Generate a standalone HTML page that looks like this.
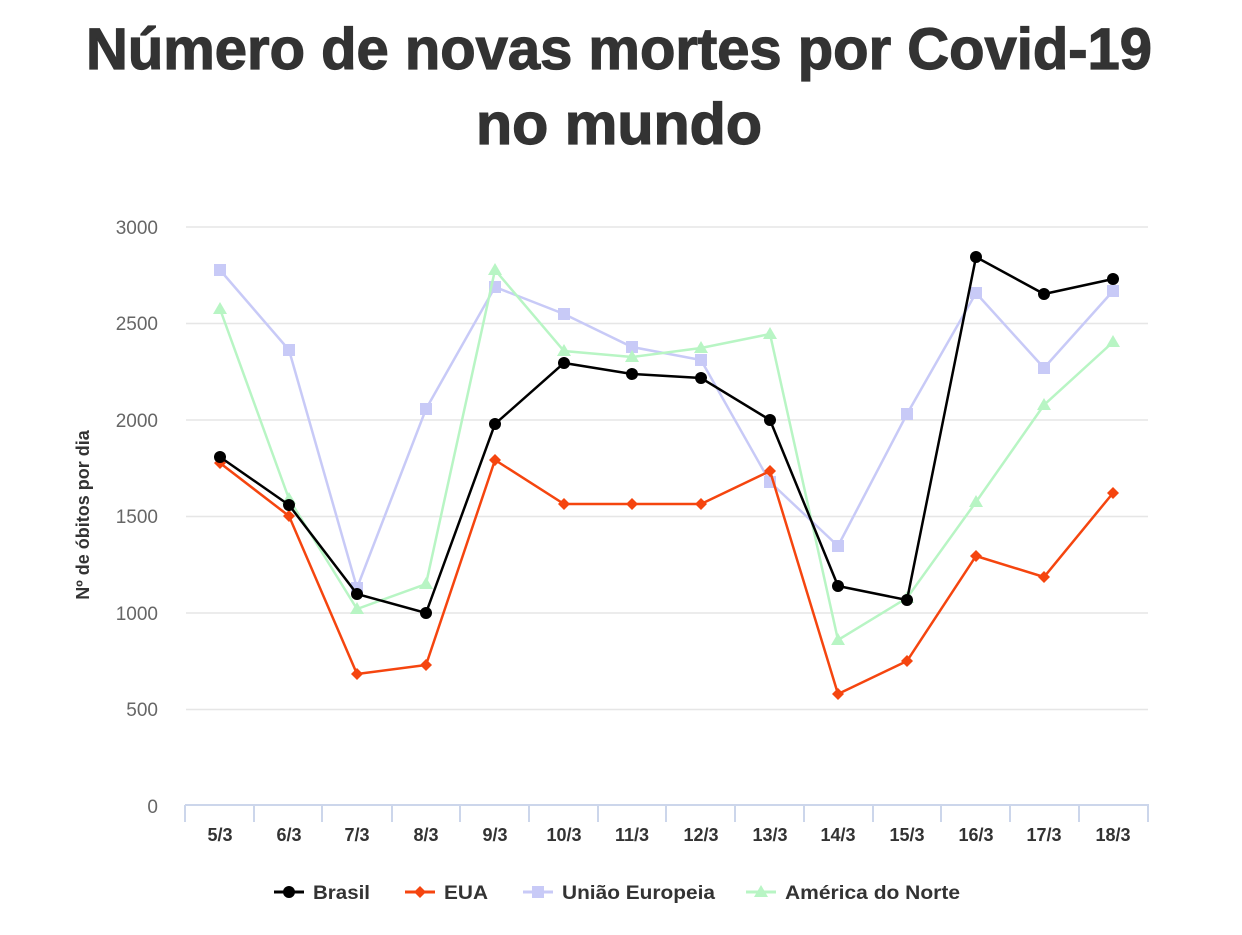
<!DOCTYPE html>
<html><head><meta charset="utf-8"><style>
html,body{margin:0;padding:0;background:#fff;width:1242px;height:935px;overflow:hidden}
svg text{font-family:"Liberation Sans",sans-serif}
</style></head><body>
<svg width="1242" height="935" xmlns="http://www.w3.org/2000/svg">
<g font-weight="bold" fill="#333" font-size="58" stroke="#333" stroke-width="1.2">
<text x="86" y="69" textLength="1066" lengthAdjust="spacingAndGlyphs">Número de novas mortes por Covid-19</text>
<text x="476" y="144" textLength="286" lengthAdjust="spacingAndGlyphs">no mundo</text>
</g>
<g stroke="#e6e6e6" stroke-width="1.5">
<line x1="186" x2="1148" y1="227" y2="227"/><line x1="186" x2="1148" y1="323.5" y2="323.5"/>
<line x1="186" x2="1148" y1="420" y2="420"/><line x1="186" x2="1148" y1="516.5" y2="516.5"/>
<line x1="186" x2="1148" y1="613" y2="613"/><line x1="186" x2="1148" y1="709.5" y2="709.5"/>
</g>
<g stroke="#ccd6eb" stroke-width="2">
<line x1="185" x2="1149" y1="805" y2="805"/>
<line x1="185" x2="185" y1="805" y2="822"/><line x1="254" x2="254" y1="805" y2="822"/><line x1="322" x2="322" y1="805" y2="822"/><line x1="392" x2="392" y1="805" y2="822"/><line x1="460" x2="460" y1="805" y2="822"/><line x1="529" x2="529" y1="805" y2="822"/><line x1="598" x2="598" y1="805" y2="822"/><line x1="666" x2="666" y1="805" y2="822"/><line x1="735" x2="735" y1="805" y2="822"/><line x1="804" x2="804" y1="805" y2="822"/><line x1="873" x2="873" y1="805" y2="822"/><line x1="941" x2="941" y1="805" y2="822"/><line x1="1010" x2="1010" y1="805" y2="822"/><line x1="1079" x2="1079" y1="805" y2="822"/><line x1="1148" x2="1148" y1="805" y2="822"/>
</g>
<g fill="#666" font-size="19" text-anchor="end">
<text x="158" y="234">3000</text><text x="158" y="330">2500</text><text x="158" y="427">2000</text><text x="158" y="523">1500</text><text x="158" y="620">1000</text><text x="158" y="716">500</text><text x="158" y="813">0</text>
</g>
<text transform="translate(89,515) rotate(-90)" text-anchor="middle" font-size="18" font-weight="bold" fill="#333">Nº de óbitos por dia</text>
<g fill="#333" font-size="18" font-weight="bold" text-anchor="middle">
<text x="220" y="841">5/3</text><text x="289" y="841">6/3</text><text x="357" y="841">7/3</text><text x="426" y="841">8/3</text><text x="495" y="841">9/3</text><text x="564" y="841">10/3</text><text x="632" y="841">11/3</text><text x="701" y="841">12/3</text><text x="770" y="841">13/3</text><text x="838" y="841">14/3</text><text x="907" y="841">15/3</text><text x="976" y="841">16/3</text><text x="1044" y="841">17/3</text><text x="1113" y="841">18/3</text>
</g>
<polyline fill="none" stroke="#c8caf7" stroke-width="2.5" points="220,270 289,350 357,588 426,409 495,287 564,314 632,347 701,360 770,482 838,546 907,414 976,293 1044,368 1113,291"/>
<g fill="#c8caf7">
<rect x="214" y="264" width="12" height="12"/><rect x="283" y="344" width="12" height="12"/><rect x="351" y="582" width="12" height="12"/><rect x="420" y="403" width="12" height="12"/><rect x="489" y="281" width="12" height="12"/><rect x="558" y="308" width="12" height="12"/><rect x="626" y="341" width="12" height="12"/><rect x="695" y="354" width="12" height="12"/><rect x="764" y="476" width="12" height="12"/><rect x="832" y="540" width="12" height="12"/><rect x="901" y="408" width="12" height="12"/><rect x="970" y="287" width="12" height="12"/><rect x="1038" y="362" width="12" height="12"/><rect x="1107" y="285" width="12" height="12"/>
</g>
<polyline fill="none" stroke="#b8f5c4" stroke-width="2.5" points="220,309 289,499 357,609 426,584 495,270 564,351 632,357 701,348 770,334 838,640 907,598 976,502 1044,405 1113,342"/>
<g fill="#b8f5c4">
<path d="M220,302l7,12h-14z"/><path d="M289,492l7,12h-14z"/><path d="M357,602l7,12h-14z"/><path d="M426,577l7,12h-14z"/><path d="M495,263l7,12h-14z"/><path d="M564,344l7,12h-14z"/><path d="M632,350l7,12h-14z"/><path d="M701,341l7,12h-14z"/><path d="M770,327l7,12h-14z"/><path d="M838,633l7,12h-14z"/><path d="M907,591l7,12h-14z"/><path d="M976,495l7,12h-14z"/><path d="M1044,398l7,12h-14z"/><path d="M1113,335l7,12h-14z"/>
</g>
<polyline fill="none" stroke="#f5450f" stroke-width="2.5" points="220,463 289,516 357,674 426,665 495,460 564,504 632,504 701,504 770,471 838,694 907,661 976,556 1044,577 1113,493"/>
<g fill="#f5450f">
<path d="M220,457l6,6l-6,6l-6,-6z"/><path d="M289,510l6,6l-6,6l-6,-6z"/><path d="M357,668l6,6l-6,6l-6,-6z"/><path d="M426,659l6,6l-6,6l-6,-6z"/><path d="M495,454l6,6l-6,6l-6,-6z"/><path d="M564,498l6,6l-6,6l-6,-6z"/><path d="M632,498l6,6l-6,6l-6,-6z"/><path d="M701,498l6,6l-6,6l-6,-6z"/><path d="M770,465l6,6l-6,6l-6,-6z"/><path d="M838,688l6,6l-6,6l-6,-6z"/><path d="M907,655l6,6l-6,6l-6,-6z"/><path d="M976,550l6,6l-6,6l-6,-6z"/><path d="M1044,571l6,6l-6,6l-6,-6z"/><path d="M1113,487l6,6l-6,6l-6,-6z"/>
</g>
<polyline fill="none" stroke="#000" stroke-width="2.5" points="220,457 289,505 357,594 426,613 495,424 564,363 632,374 701,378 770,420 838,586 907,600 976,257 1044,294 1113,279"/>
<g fill="#000">
<circle cx="220" cy="457" r="6"/><circle cx="289" cy="505" r="6"/><circle cx="357" cy="594" r="6"/><circle cx="426" cy="613" r="6"/><circle cx="495" cy="424" r="6"/><circle cx="564" cy="363" r="6"/><circle cx="632" cy="374" r="6"/><circle cx="701" cy="378" r="6"/><circle cx="770" cy="420" r="6"/><circle cx="838" cy="586" r="6"/><circle cx="907" cy="600" r="6"/><circle cx="976" cy="257" r="6"/><circle cx="1044" cy="294" r="6"/><circle cx="1113" cy="279" r="6"/>
</g>
<g font-size="19" font-weight="bold" fill="#333">
<line x1="274" x2="304" y1="892" y2="892" stroke="#000" stroke-width="3"/><circle cx="289" cy="892" r="6" fill="#000"/>
<text x="313" y="899" textLength="57" lengthAdjust="spacingAndGlyphs">Brasil</text>
<line x1="405" x2="435" y1="892" y2="892" stroke="#f5450f" stroke-width="3"/><path d="M420,886l6,6l-6,6l-6,-6z" fill="#f5450f"/>
<text x="444" y="899" textLength="44" lengthAdjust="spacingAndGlyphs">EUA</text>
<line x1="523" x2="553" y1="892" y2="892" stroke="#c8caf7" stroke-width="3"/><rect x="532" y="886" width="12" height="12" fill="#c8caf7"/>
<text x="562" y="899" textLength="153" lengthAdjust="spacingAndGlyphs">União Europeia</text>
<line x1="746" x2="776" y1="892" y2="892" stroke="#b8f5c4" stroke-width="3"/><path d="M761,885l7,12h-14z" fill="#b8f5c4"/>
<text x="785" y="899" textLength="175" lengthAdjust="spacingAndGlyphs">América do Norte</text>
</g>
</svg>
</body></html>
